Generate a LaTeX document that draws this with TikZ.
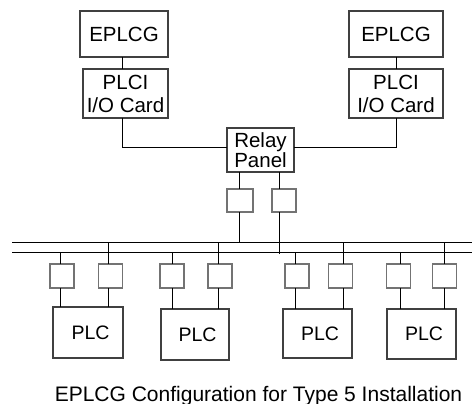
\documentclass[tikz,border=0pt]{standalone}
\usepackage{fontspec}
\setmainfont{Liberation Sans}
\begin{document}
\begin{tikzpicture}[x=1pt,y=-1pt,
  box/.style={draw=black!75,line width=1.1pt,inner sep=0pt,outer sep=0pt,align=center,
    font=\fontsize{20.5}{23}\selectfont},
  sbox/.style={draw=black!55,line width=1.3pt,inner sep=0pt,outer sep=0pt,minimum width=24pt,minimum height=24pt},
  wire/.style={line width=1pt,black}]
\useasboundingbox (0,0) rectangle (472,404);
% top boxes
\node[box,minimum width=88pt,minimum height=46pt] (e1) at (124,34) {EPLCG};
\node[box,minimum width=94pt,minimum height=46pt] (e2) at (396,34) {EPLCG};
\node[box,minimum width=85pt,minimum height=49pt] (p1) at (125.5,93.5) {PLCI\\I/O Card};
\node[box,minimum width=94pt,minimum height=49pt] (p2) at (396,93.5) {PLCI\\I/O Card};
\node[box,minimum width=67pt,minimum height=44pt,font=\fontsize{20.5}{19.5}\selectfont] (r) at (260.5,150) {Relay\\Panel};
% upper small boxes
\node[sbox,minimum width=26pt,minimum height=23pt] (ua) at (240,200.5) {};
\node[sbox,minimum width=24pt,minimum height=23pt] (ub) at (284,200.5) {};
% bus coordinates
\coordinate (b1l) at (12,242); \coordinate (b1r) at (472,242);
\coordinate (b2l) at (12,252); \coordinate (b2r) at (472,252);
\draw[wire] (b1l) -- (b1r);
\draw[wire] (b2l) -- (b2r);
% top wires
\draw[wire] (e1.south -| 122.7,0) -- (p1.north -| 122.7,0);
\draw[wire] (e2.south) -- (p2.north);
\draw[wire] (p1.south -| 122.7,0) |- (r.west |- 0,148);
\draw[wire] (p2.south) |- (r.east |- 0,148);
\draw[wire] (r.south -| 239,0) -- (ua.north -| 239,0);
\draw[wire] (r.south -| 279,0) -- (ub.north -| 279,0);
\draw[wire] (ua.south -| 239,0) -- (b1l -| 239,0);
\coordinate (ubend) at (279,253.5);
\draw[wire] (ub.south -| 279,0) -- (ubend);
% PLC groups
\foreach \n/\la/\lb/\ca/\cb/\px/\pw/\py/\ph in {
  1/60/108/62/110.5/88/70/332.5/51,
  2/172/218/172/220/195/68/334.5/51,
  3/295/343/297/340.5/317.5/69/333.5/49,
  4/400/444/398.5/444.5/421.5/69/334/50}{
  \node[sbox] (sa\n) at (\ca,276) {};
  \node[sbox] (sb\n) at (\cb,276) {};
  \node[box,minimum width=\pw pt,minimum height=\ph pt,font=\fontsize{19.5}{22}\selectfont] (plc\n) at (\px,\py) {\hspace*{5pt}PLC};
  \draw[wire] (b2l -| \la,0) -- (sa\n.north -| \la,0);
  \draw[wire] (b1l -| \lb,0) -- (sb\n.north -| \lb,0);
  \draw[wire] (sa\n.south -| \la,0) -- (plc\n.north -| \la,0);
  \draw[wire] (sb\n.south -| \lb,0) -- (plc\n.north -| \lb,0);
}
\node[font=\fontsize{21}{24}\selectfont,inner sep=0pt,anchor=base] (cap) at (258.5,401) {EPLCG Configuration for Type 5 Installation};
\end{tikzpicture}
\end{document}
